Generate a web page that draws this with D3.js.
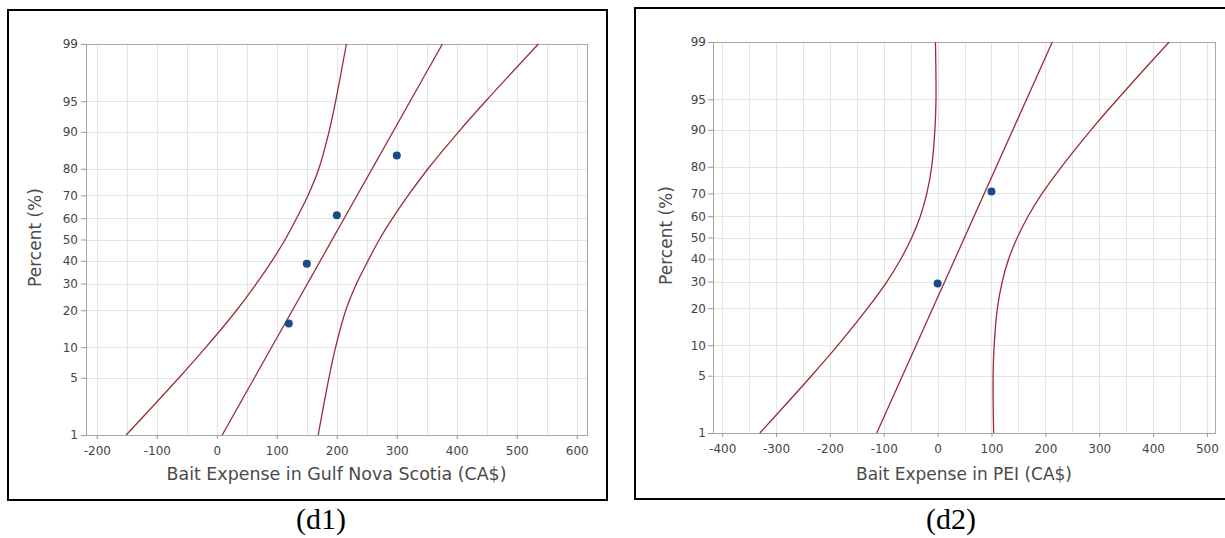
<!DOCTYPE html>
<html><head><meta charset="utf-8">
<script src="https://cdn.jsdelivr.net/npm/d3@7"></script>
<style>body{margin:0;background:#fff}svg{display:block}</style>
</head><body><svg id="c" width="1225" height="538"></svg>
<script>
// ---------- data ----------
const pctLevels = [1,5,10,20,30,40,50,60,70,80,90,95,99];
const yTickLabels = [1,5,10,20,30,40,50,60,70,80,90,95,99];

const d1XTicks = [-200,-100,0,100,200,300,400,500,600];
const d1PointsX = [120,150,200,300];
const d1PointsPct = [15.9,38.6,61.4,84.1];
const d1Lower = [-151,-63,-18,33,66,92,114,133,152,170,187,198,216];
const d1Upper = [169,187,198,215,233,252,271,293,319,352,403,448,536];
const d1FitPct = [1,99];
const d1FitX = [9,376];
const d1Title = "Bait Expense in Gulf Nova Scotia (CA$)";

const d2XTicks = [-400,-300,-200,-100,0,100,200,300,400,500];
const d2PointsX = [0,100];
const d2PointsPct = [29.2,70.8];
const d2Lower = [-330,-234,-185,-130,-94,-68,-48,-32,-20,-11,-5,-3,-4];
const d2Upper = [104,103,105,111,120,132,148,168,194,230,285,334,430];
const d2FitPct = [1,99];
const d2FitX = [-113,213];
const d2Title = "Bait Expense in PEI (CA$)";

const yTitle = "Percent (%)";

// ---------- inverse normal (probability scale transform) ----------
function probit(p){
 const a=[-3.969683028665376e+01,2.209460984245205e+02,-2.759285104469687e+02,1.383577518672690e+02,-3.066479806614716e+01,2.506628277459239e+00];
 const b=[-5.447609879822406e+01,1.615858368580409e+02,-1.556989798598866e+02,6.680131188771972e+01,-1.328068155288572e+01];
 const c=[-7.784894002430293e-03,-3.223964580411365e-01,-2.400758277161838e+00,-2.549732539343734e+00,4.374664141464968e+00,2.938163982698783e+00];
 const d=[7.784695709041462e-03,3.224671290700398e-01,2.445134137142996e+00,3.754408661907416e+00];
 const pl=0.02425, ph=1-pl; let q,r;
 if(p<pl){q=Math.sqrt(-2*Math.log(p));return (((((c[0]*q+c[1])*q+c[2])*q+c[3])*q+c[4])*q+c[5])/((((d[0]*q+d[1])*q+d[2])*q+d[3])*q+1);}
 if(p<=ph){q=p-0.5;r=q*q;return (((((a[0]*r+a[1])*r+a[2])*r+a[3])*r+a[4])*r+a[5])*q/(((((b[0]*r+b[1])*r+b[2])*r+b[3])*r+b[4])*r+1);}
 q=Math.sqrt(-2*Math.log(1-p));return -(((((c[0]*q+c[1])*q+c[2])*q+c[3])*q+c[4])*q+c[5])/((((d[0]*q+d[1])*q+d[2])*q+d[3])*q+1);
}

const svg = d3.select("#c");
const FONT = "'DejaVu Sans', sans-serif";
const CURVE = "#9a2c36";
const POINT = "#1b4a8a";

function panel(cfg){
  const {box, plot, xDomain, xTicks, lower, upper, fitPct, fitX, px, pp, title, titleLen, ylabPad, yTitleX, caption, captionX} = cfg;
  const g = svg.append("g");
  g.append("rect").attr("x",box[0]).attr("y",box[1]).attr("width",box[2]-box[0]).attr("height",box[3]-box[1])
    .attr("fill","none").attr("stroke","#000").attr("stroke-width",2);

  const x = d3.scaleLinear().domain(xDomain).range([plot.x0, plot.x1]);
  const z = d3.scaleLinear().domain([probit(0.01), probit(0.99)]).range([plot.y1, plot.y0]);
  const y = p => z(probit(p/100));

  const grid = g.append("g").attr("stroke","#e4e4e4").attr("stroke-width",1).attr("shape-rendering","crispEdges");
  const vg = d3.range(Math.ceil(xDomain[0]/50)*50, xDomain[1], 50);
  grid.selectAll("line.v").data(vg).join("line").attr("class","v")
    .attr("x1",d=>Math.round(x(d))+0.5).attr("x2",d=>Math.round(x(d))+0.5).attr("y1",plot.y0).attr("y2",plot.y1);
  grid.selectAll("line.h").data(yTickLabels).join("line").attr("class","h")
    .attr("x1",plot.x0).attr("x2",plot.x1).attr("y1",d=>Math.round(y(d))+0.5).attr("y2",d=>Math.round(y(d))+0.5);

  g.append("rect").attr("x",plot.x0+0.5).attr("y",plot.y0+0.5).attr("width",plot.x1-plot.x0).attr("height",plot.y1-plot.y0)
    .attr("fill","none").attr("stroke","#a8a8a8").attr("stroke-width",1).attr("shape-rendering","crispEdges");

  const xAxis = d3.axisBottom(x).tickValues(xTicks).tickFormat(d=>String(d)).tickSize(4).tickPadding(7.5);
  const ga = g.append("g").attr("transform",`translate(0,${plot.y1})`).call(xAxis);
  const yAxis = d3.axisLeft(z).tickValues(yTickLabels.map(p=>probit(p/100)))
    .tickFormat((d,i)=>String(yTickLabels[i])).tickSize(5).tickPadding(ylabPad);
  const gy = g.append("g").attr("transform",`translate(${plot.x0},0)`).call(yAxis);
  [ga,gy].forEach(a=>{
    a.select(".domain").remove();
    a.selectAll(".tick line").attr("stroke","#999");
    a.selectAll(".tick text").attr("fill","#444").style("font-family",FONT).style("font-size","12px");
  });

  const line = d3.line().x(d=>x(d[0])).y(d=>y(d[1])).curve(d3.curveCatmullRom.alpha(0.5));
  const cg = g.append("g").attr("fill","none").attr("stroke",CURVE).attr("stroke-width",1.3);
  cg.append("path").attr("d", line(lower.map((v,i)=>[v,pctLevels[i]])));
  cg.append("path").attr("d", line(upper.map((v,i)=>[v,pctLevels[i]])));
  cg.append("path").attr("d", d3.line().x(d=>x(d[0])).y(d=>y(d[1]))(fitX.map((v,i)=>[v,fitPct[i]])));

  g.append("g").selectAll("circle").data(px.map((v,i)=>[v,pp[i]])).join("circle")
    .attr("cx",d=>x(d[0])).attr("cy",d=>y(d[1])).attr("r",4).attr("fill",POINT);

  g.append("text").attr("x",(plot.x0+plot.x1)/2).attr("y",480).attr("text-anchor","middle")
    .attr("textLength",titleLen).attr("lengthAdjust","spacingAndGlyphs")
    .attr("fill","#4a4a4a").style("font-family",FONT).style("font-size","17px").text(title);
  g.append("text").attr("transform",`translate(${yTitleX},${(plot.y0+plot.y1)/2-2}) rotate(-90)`).attr("text-anchor","middle")
    .attr("fill","#4a4a4a").style("font-family",FONT).style("font-size","17px").text(yTitle);

  svg.append("text").attr("x",captionX).attr("y",529).attr("text-anchor","middle")
    .attr("fill","#000").style("font-family","'Liberation Serif', 'Times New Roman', serif").style("font-size","30px").text(caption);
}

panel({box:[8,10,607,500], plot:{x0:86,x1:587,y0:44,y1:435}, xDomain:[-218,617], xTicks:d1XTicks,
  lower:d1Lower, upper:d1Upper, fitPct:d1FitPct, fitX:d1FitX, px:d1PointsX, pp:d1PointsPct,
  title:d1Title, titleLen:340, ylabPad:3, yTitleX:41, caption:"(d1)", captionX:321});
panel({box:[635,8,1228,499], plot:{x0:713,x1:1215,y0:42,y1:433}, xDomain:[-417,515], xTicks:d2XTicks,
  lower:d2Lower, upper:d2Upper, fitPct:d2FitPct, fitX:d2FitX, px:d2PointsX, pp:d2PointsPct,
  title:d2Title, titleLen:216, ylabPad:2, yTitleX:672, caption:"(d2)", captionX:951});
</script>
</body></html>
